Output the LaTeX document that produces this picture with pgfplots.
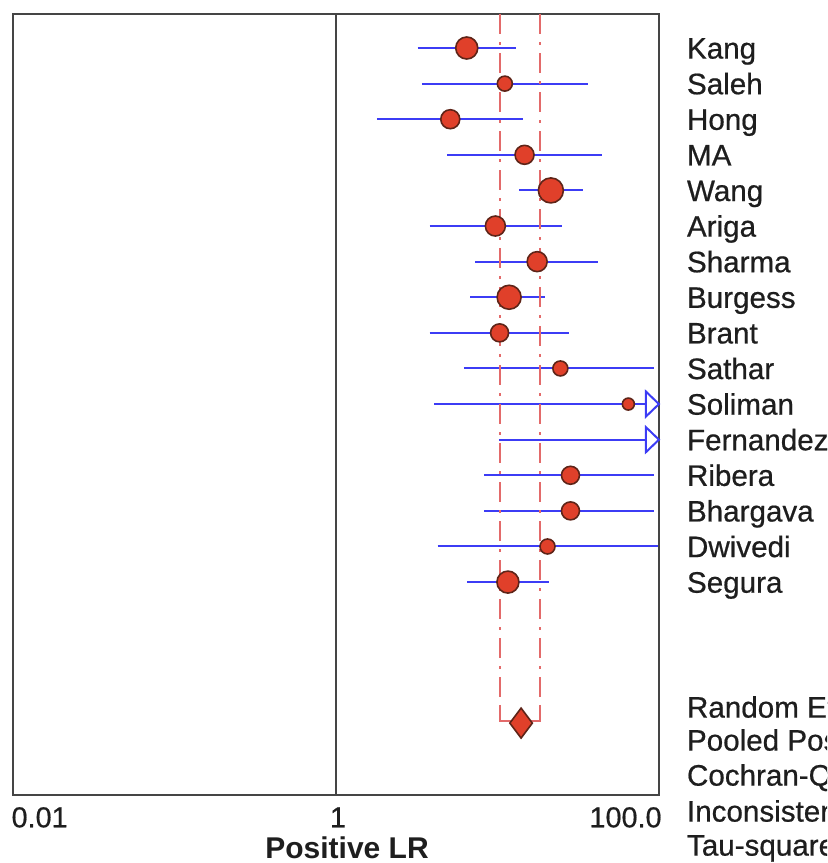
\documentclass[border=0pt]{standalone}
\usepackage{fontspec}
\setmainfont{Liberation Sans}
\newfontfamily\labfont[FakeBold=0.6]{Liberation Sans}
\usepackage{pgfplots}
\pgfplotsset{compat=1.18}
\usepackage{pgfplotstable}
\definecolor{cil}{HTML}{3C3CF5}
\definecolor{ptred}{HTML}{E0402A}
\definecolor{ptedge}{HTML}{5E2418}
\definecolor{pooled}{HTML}{E36A6A}
\definecolor{frame}{HTML}{454545}
\definecolor{txt}{HTML}{1E1E1E}

\pgfdeclareplotmark{rtri}{%
  \pgfpathmoveto{\pgfqpoint{0pt}{0.96\pgfplotmarksize}}%
  \pgfpathlineto{\pgfqpoint{\pgfplotmarksize}{0pt}}%
  \pgfpathlineto{\pgfqpoint{0pt}{-0.96\pgfplotmarksize}}%
  \pgfpathclose
  \pgfusepathqfillstroke}

% study estimates: row, point estimate, marker diameter (px)
\pgfplotstableread{
row est d
1 6.45 22
2 11.1 15
3 5.1 19
4 14.7 19
5 21.4 25
6 9.7 20
7 17.6 20
8 11.8 24
9 10.3 18
10 24.5 15
11 64.6 12
13 28.3 18
14 28.3 18
15 20.4 15
16 11.6 22
}\studies

% confidence intervals as segments
\pgfplotstableread{
x y
3.2 1
13.0 1
nan nan
3.4 2
36.2 2
nan nan
1.79 3
14.3 3
nan nan
4.9 4
44.4 4
nan nan
13.6 5
33.7 5
nan nan
3.8 6
25.0 6
nan nan
7.3 7
41.7 7
nan nan
6.8 8
19.7 8
nan nan
3.8 9
27.8 9
nan nan
6.2 10
93 10
nan nan
4.06 11
83 11
nan nan
10.2 12
83 12
nan nan
8.3 13
93 13
nan nan
8.3 14
93 14
nan nan
4.26 15
98 15
nan nan
6.5 16
20.7 16
}\cisegs

\tikzset{lab/.style={anchor=base west, inner sep=0pt, xshift=13.8pt, yshift=-5.3pt,
  font=\labfont\fontsize{14.8}{17}\selectfont, text=txt}}

\begin{document}
\begin{tikzpicture}
\useasboundingbox (0,0) rectangle (413.5pt,431.5pt);
\clip (0,0) rectangle (413.5pt,431.5pt);
\begin{axis}[
  at={(6.5pt,34pt)}, anchor=south west,
  scale only axis, width=323pt, height=390.5pt,
  xmode=log, xmin=0.01, xmax=100, ymin=0.045, ymax=21.98, y dir=reverse,
  xtick=\empty, ytick=\empty,
  axis line style={frame, line width=1pt},
  clip=false,
]
\addplot[frame, line width=1pt] coordinates {(1,0.045) (1,21.98)};
\addplot[cil, line width=1pt, unbounded coords=jump] table[x=x,y=y]{\cisegs};
\addplot[pooled, line width=1pt, dash pattern=on 10pt off 4pt on 1.5pt off 4pt] coordinates {(10.4,0.045) (10.4,19.9)};
\addplot[pooled, line width=1pt, dash pattern=on 10pt off 4pt on 1.5pt off 4pt] coordinates {(18.4,0.045) (18.4,19.9)};
\addplot[pooled, line width=1pt] coordinates {(10.4,19.45) (10.4,19.9) (12.2,19.9)};
\addplot[pooled, line width=1pt] coordinates {(18.4,19.45) (18.4,19.9) (15.9,19.9)};
\addplot[scatter, only marks, mark=*,
  scatter/use mapped color={draw=ptedge, fill=ptred},
  mark options={line width=0.8pt},
  visualization depends on={0.25*\thisrow{d} \as \perpointmarksize},
  scatter/@pre marker code/.append style={/tikz/mark size=\perpointmarksize}]
  table[x=est,y=row]{\studies};
\addplot[only marks, mark=diamond*, mark size=7.5pt,
  mark options={fill=ptred, draw=ptedge, line width=0.8pt}] coordinates {(14.0,19.96)};
\addplot[only marks, mark=rtri, mark size=6.5pt,
  mark options={draw=cil, fill=white, line width=1pt}] coordinates {(83,11) (83,12)};

\node[lab] at (axis cs:100,1) {Kang};
\node[lab] at (axis cs:100,2) {Saleh};
\node[lab] at (axis cs:100,3) {Hong};
\node[lab] at (axis cs:100,4) {MA};
\node[lab] at (axis cs:100,5) {Wang};
\node[lab] at (axis cs:100,6) {Ariga};
\node[lab] at (axis cs:100,7) {Sharma};
\node[lab] at (axis cs:100,8) {Burgess};
\node[lab] at (axis cs:100,9) {Brant};
\node[lab] at (axis cs:100,10) {Sathar};
\node[lab] at (axis cs:100,11) {Soliman};
\node[lab] at (axis cs:100,12) {Fernandez};
\node[lab] at (axis cs:100,13) {Ribera};
\node[lab] at (axis cs:100,14) {Bhargava};
\node[lab] at (axis cs:100,15) {Dwivedi};
\node[lab] at (axis cs:100,16) {Segura};
\end{axis}
\begin{scope}[every node/.style={anchor=base west, inner sep=0pt, font=\labfont\fontsize{14.8}{17}\selectfont, text=txt}]
\node at (343.3pt,72.7pt) {Random Effects Model};
\node at (343.3pt,56.2pt) {Pooled Positive LR};
\node at (343.3pt,38.7pt) {Cochran-Q};
\node at (343.3pt,20.7pt) {Inconsistency};
\node at (343.3pt,3.7pt) {Tau-squared};
\node[font=\labfont\fontsize{14.4}{17}\selectfont] at (5.6pt,17.85pt) {0.01};
\node[anchor=base, font=\labfont\fontsize{14.4}{17}\selectfont] at (169pt,17.85pt) {1};
\node[anchor=base east, font=\labfont\fontsize{14.4}{17}\selectfont] at (331pt,17.85pt) {100.0};
\node[anchor=base, font=\fontsize{15}{18}\selectfont\bfseries] at (173.5pt,2.1pt) {Positive LR};
\end{scope}
\end{tikzpicture}
\end{document}
